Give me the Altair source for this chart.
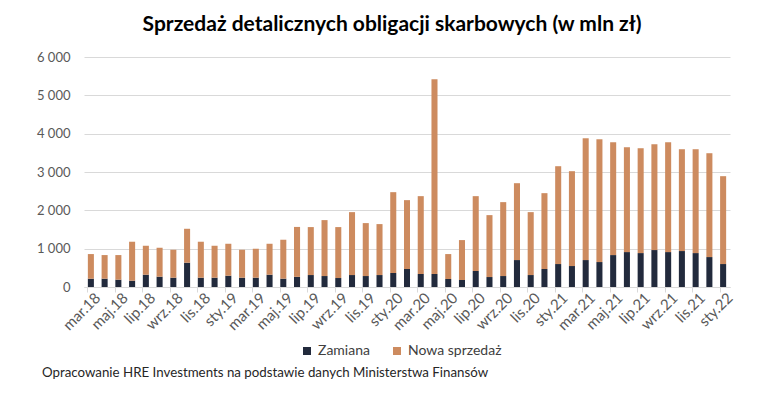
import altair as alt
import pandas as pd

months = ["mar.18", "kwi.18", "maj.18", "cze.18", "lip.18", "sie.18", "wrz.18", "paź.18", "lis.18", "gru.18",
          "sty.19", "lut.19", "mar.19", "kwi.19", "maj.19", "cze.19", "lip.19", "sie.19", "wrz.19", "paź.19",
          "lis.19", "gru.19", "sty.20", "lut.20", "mar.20", "kwi.20", "maj.20", "cze.20", "lip.20", "sie.20",
          "wrz.20", "paź.20", "lis.20", "gru.20", "sty.21", "lut.21", "mar.21", "kwi.21", "maj.21", "cze.21",
          "lip.21", "sie.21", "wrz.21", "paź.21", "lis.21", "gru.21", "sty.22"]

zamiana = [217, 217, 191, 165, 321, 269, 243, 634, 243, 243, 295, 243, 243, 321, 217, 265,
           312, 286, 234, 312, 286, 312, 365, 469, 339, 339, 208, 182, 417, 260, 286, 703, 312,
           469, 599, 547, 703, 651, 833, 911, 885, 964, 911, 938, 885, 781, 599]

nowa = [642, 616, 642, 1016, 755, 755, 729, 885, 938, 833, 833, 729, 755, 807, 1016, 1302,
        1251, 1459, 1329, 1641, 1381, 1329, 2109, 1797, 2031, 5078, 651, 1042, 1953, 1615, 1928, 2005, 1641,
        1979, 2552, 2474, 3177, 3203, 2943, 2735, 2735, 2760, 2865, 2656, 2709, 2709, 2292]

series = ["Zamiana", "Nowa sprzedaż"]
colors = ["#222a3c", "#cd8b5f"]
y_ticks = [0, 1000, 2000, 3000, 4000, 5000, 6000]
title = "Sprzedaż detalicznych obligacji skarbowych (w mln zł)"
source = "Opracowanie HRE Investments na podstawie danych Ministerstwa Finansów"

rows = []
for i, m in enumerate(months):
    rows.append({"month": m, "series": series[0], "value": zamiana[i], "order": 0})
    rows.append({"month": m, "series": series[1], "value": nowa[i], "order": 1})
df = pd.DataFrame(rows)

FONT = "Lato"

bars = alt.Chart(df).mark_bar().encode(
    x=alt.X("month:N", sort=months,
            scale=alt.Scale(paddingInner=0.56, paddingOuter=0.28),
            axis=alt.Axis(title=None, values=months[::2], bandPosition=0, labelOffset=7,
                          labelAngle=-45, labelAlign="right", labelBaseline="middle",
                          labelFont=FONT, labelFontSize=15, labelColor="#595959", labelPadding=3,
                          tickSize=5, tickColor="#d9d9d9", domainColor="#d9d9d9", grid=False)),
    y=alt.Y("value:Q", stack="zero",
            scale=alt.Scale(domain=[0, 6000], nice=False),
            axis=alt.Axis(title=None, values=y_ticks, domain=False, ticks=False,
                          labelPadding=14, labelFont=FONT, labelFontSize=13, labelColor="#595959",
                          gridColor="#d9d9d9",
                          labelExpr="replace(format(datum.value, ','), ',', ' ')")),
    color=alt.Color("series:N", scale=alt.Scale(domain=series, range=colors),
                    legend=alt.Legend(title=None, orient="none", legendX=216, legendY=287,
                                      direction="horizontal", symbolType="square", symbolSize=64,
                                      symbolStrokeWidth=0, labelFont=FONT, labelFontSize=14,
                                      labelColor="#404040", columnPadding=20)),
    order=alt.Order("order:Q"),
)

src = alt.Chart(pd.DataFrame({"t": [source]})).mark_text(
    align="left", baseline="alphabetic", font=FONT, fontSize=13.3, color="#262626"
).encode(text="t:N", x=alt.value(-42), y=alt.value(320))

chart = alt.layer(bars, src).properties(
    width=646, height=230,
    autosize=alt.AutoSizeParams(type="none"),
    padding={"left": 76, "top": 49, "right": 22, "bottom": 99},
    title=alt.TitleParams(title, font=FONT, fontSize=21, fontWeight="bold", color="#000000",
                          anchor="middle", offset=16, dx=-15),
).configure_view(stroke=None)

chart.save("out.html", embed_options={"renderer": "svg", "actions": False})
